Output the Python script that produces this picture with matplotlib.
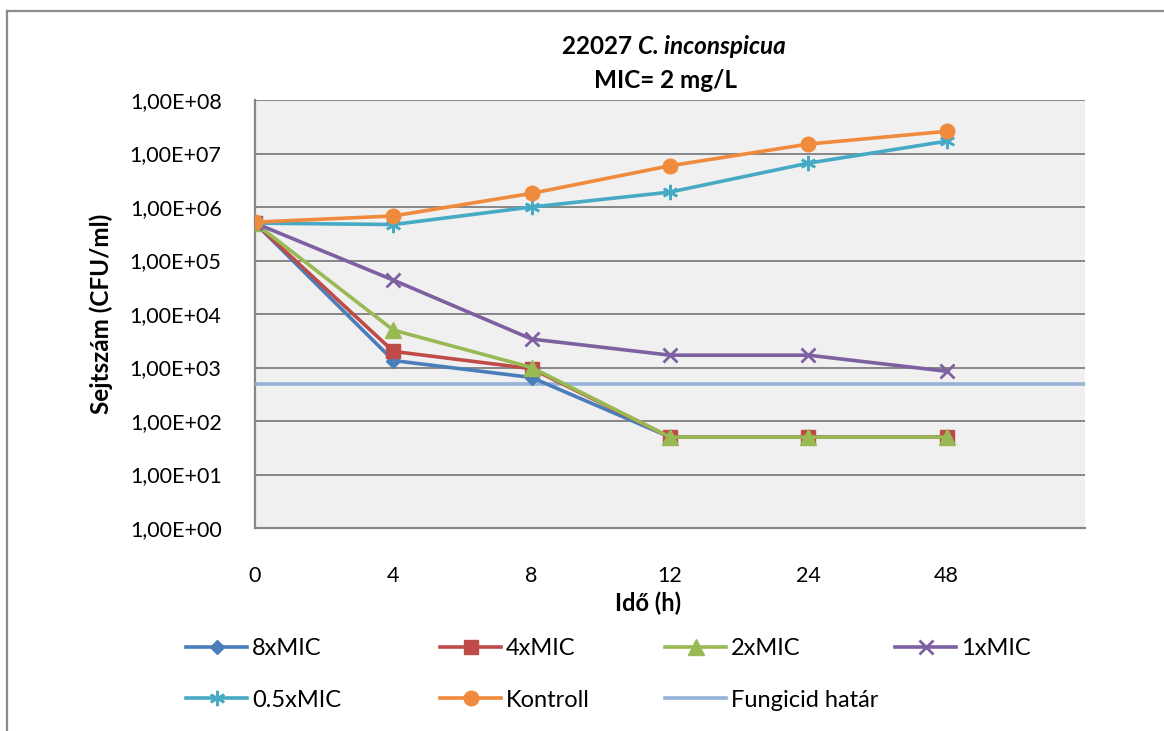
import numpy as np
import matplotlib.pyplot as plt
from matplotlib.lines import Line2D
from matplotlib.ticker import FixedLocator, FuncFormatter, NullLocator

plt.rcParams['font.family'] = ['Lato', 'DejaVu Sans']

# sampling times (h) and colony counts (CFU/ml)
hours = ["0", "4", "8", "12", "24", "48"]
mic8 = [5.0e5, 1.35e3, 6.5e2, 50, 50, 50]
mic4 = [5.0e5, 2.0e3, 9.5e2, 50, 50, 50]
mic2 = [5.0e5, 5.0e3, 1.0e3, 50, 50, 50]
mic1 = [5.0e5, 4.3e4, 3.4e3, 1.7e3, 1.7e3, 8.5e2]
mic05 = [5.0e5, 4.7e5, 1.0e6, 1.9e6, 6.6e6, 1.7e7]
kontroll = [5.2e5, 6.8e5, 1.8e6, 5.9e6, 1.5e7, 2.6e7]
fungicid_limit = 500

W, H = 1164, 731
fig = plt.figure(figsize=(W / 100, H / 100), dpi=100)

def fx(px):
    return px / W

def fy(py):
    return 1 - py / H

ax = fig.add_axes([fx(255), fy(528), fx(1085) - fx(255), fy(100) - fy(528)])
ax.set_facecolor('#f0f0f0')

x = np.arange(len(hours))
series = [
    ("8xMIC", mic8, '#4a7ebb', dict(marker='D', ms=7.5)),
    ("4xMIC", mic4, '#be4b48', dict(marker='s', ms=10)),
    ("2xMIC", mic2, '#98b954', dict(marker='^', ms=11)),
    ("1xMIC", mic1, '#7d60a0', dict(marker='x', ms=10, mew=2)),
    ("0.5xMIC", mic05, '#46aac5', dict(marker=(6, 2, 0), ms=11, mew=1.8)),
    ("Kontroll", kontroll, '#f08a3c', dict(marker='o', ms=10.5)),
]

handles = []
for name, vals, col, mk in series:
    ln, = ax.plot(x, vals, color=col, lw=2.6, label=name, zorder=4,
                  markeredgecolor=col, markerfacecolor=col, **mk)
    handles.append(ln)
limit = ax.axhline(fungicid_limit, color='#95b3d7', lw=2.6, label="Fungicid határ", zorder=3)
handles.append(limit)

ax.set_yscale('log')
ax.set_ylim(1, 1e8)
ax.set_xlim(0, 6)
ax.yaxis.set_major_locator(FixedLocator([10.0 ** k for k in range(9)]))
ax.yaxis.set_minor_locator(NullLocator())
ax.yaxis.set_major_formatter(FuncFormatter(lambda v, p: "1,00E+%02d" % int(round(np.log10(v)))))
ax.set_xticks(x)
ax.set_xticklabels(hours)
ax.tick_params(axis='both', length=0, labelsize=15.5)
ax.tick_params(axis='x', pad=27)
ax.tick_params(axis='y', pad=24)
ax.grid(axis='y', color='#878787', lw=1.4, zorder=1)

for side in ['top', 'right']:
    ax.spines[side].set_visible(False)
for side in ['left', 'bottom']:
    ax.spines[side].set_color('#878787')
    ax.spines[side].set_linewidth(1.6)

fig.text(fx(648), fy(603), "Idő (h)", ha='center', va='center', fontsize=17, fontweight='bold')
fig.text(fx(101), fy(314), "Sejtszám (CFU/ml)", ha='center', va='center',
         rotation=90, fontsize=17.5, fontweight='bold')

# title: first line mixes upright and italic bold text
t1 = fig.text(0, fy(46), "22027 ", ha='left', va='center', fontsize=17.5, fontweight='bold')
t2 = fig.text(0, fy(46), "C. inconspicua", ha='left', va='center', fontsize=17.5,
              fontweight='bold', style='italic')
renderer = fig.canvas.get_renderer()
w1 = t1.get_window_extent(renderer).width
w2 = t2.get_window_extent(renderer).width
start = 674 - (w1 + w2) / 2
t1.set_x(fx(start))
t2.set_x(fx(start + w1))
fig.text(fx(666), fy(80), "MIC= 2 mg/L", ha='center', va='center', fontsize=17.5, fontweight='bold')

# legend laid out as four columns
columns = [(186, [handles[0], handles[4]]), (440, [handles[1], handles[5]]),
           (665, [handles[2], handles[6]]), (895, [handles[3]])]
for xpos, hs in columns:
    leg = fig.legend(handles=hs, loc='upper left', bbox_to_anchor=(fx(xpos), fy(638)),
                     bbox_transform=fig.transFigure, frameon=False, borderpad=0,
                     borderaxespad=0, handlelength=2.6, handletextpad=0.2,
                     labelspacing=1.3, fontsize=17)

# outer chart frame
fig.add_artist(Line2D([fx(7), fx(7)], [fy(11), 0], color='#8c8c8c', lw=1.6))
fig.add_artist(Line2D([fx(7), 1], [fy(11), fy(11)], color='#8c8c8c', lw=1.6))

fig.savefig('out.png', dpi=100)
